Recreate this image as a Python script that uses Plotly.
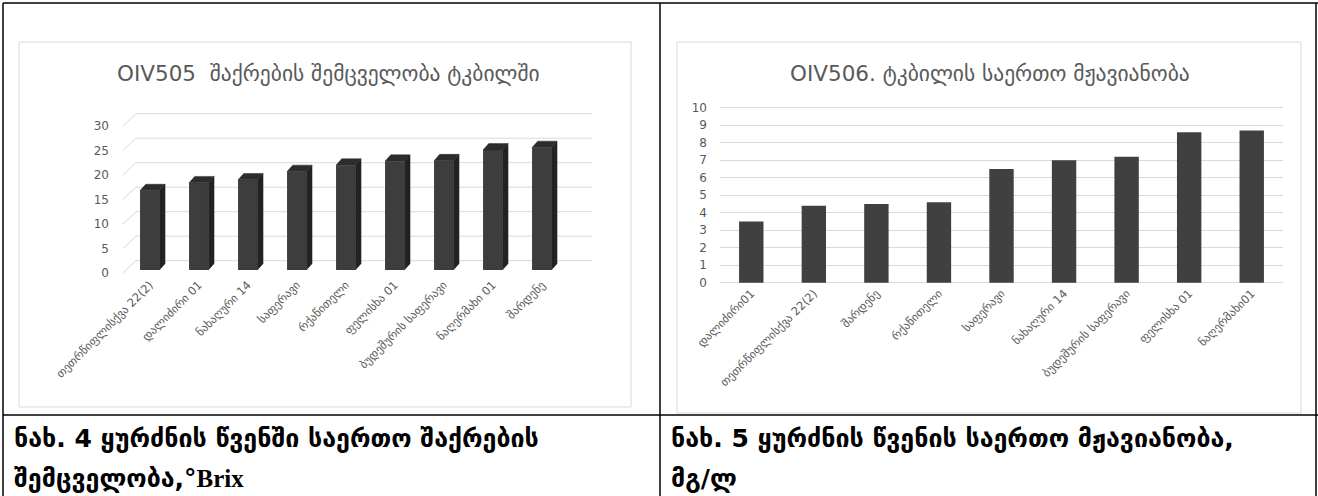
import numpy as np
import plotly.graph_objects as go

# --- data -------------------------------------------------------------
sugar_varieties = ["თეთრწიფლისქვა 22(2)", "დალიძირი 01", "ნახაღური 14", "საფერავი",
                   "რქაწითელი", "ფელისხა 01", "ბუდეშურის საფერავი", "ნაღერმახი 01", "შარდენე"]
sugar_brix = [16.2, 17.8, 18.4, 20.1, 21.4, 22.2, 22.3, 24.5, 25.0]
sugar_ticks = [0, 5, 10, 15, 20, 25, 30]

acid_varieties = ["დალიძირი01", "თეთრწიფლისქვა 22(2)", "შარდენე", "რქაწითელი", "საფერავი",
                  "ნახაღური 14", "ბუდეშურის საფერავი", "ფელისხა 01", "ნაღერმახი01"]
acid_gl = [3.5, 4.4, 4.5, 4.6, 6.5, 7.0, 7.2, 8.6, 8.7]
acid_ticks = list(range(0, 11))

title_left = "OIV505  შაქრების შემცველობა ტკბილში"
title_right = "OIV506. ტკბილის საერთო მჟავიანობა"
caption_left = ["ნახ. 4 ყურძნის წვენში საერთო შაქრების",
                "შემცველობა,°<span style='font-family:Liberation Serif'>Brix</span>"]
caption_right = ["ნახ. 5 ყურძნის წვენის საერთო მჟავიანობა,", "მგ/ლ"]

# --- page geometry (pixels) -------------------------------------------
W, H = 1318, 496
fx = lambda p: p / W
fy = lambda p: 1 - p / H

GEO = "DejaVu Sans"
GREY = "#595959"
GRID = "#d9d9d9"

fig = go.Figure()

# --- left chart: 3-D style columns -------------------------------------
# pixel mapping: category 0 at 149.7 px, 49 px per category; value 0 at 270 px, 4.9 px per unit
C0, CS = 149.7, 49.0
V0, VS = 270.0, 4.9
idx = np.arange(len(sugar_varieties))
bw, ddx, ddy = 0.394, 0.116, 1.3    # front width, depth offsets
wall_dy = 1.9                       # back wall gridlines sit higher
stub_x0 = (123 - C0) / CS
wall_x0 = (136 - C0) / CS
wall_x1 = (592 - C0) / CS

fig.add_trace(go.Bar(x=idx, y=sugar_brix, width=bw, marker=dict(color="#3d3d3d", line=dict(width=0)),
                     showlegend=False, xaxis="x", yaxis="y"))

sx, sy, tx, ty = [], [], [], []
for i, v in zip(idx, sugar_brix):
    x0, x1 = i - bw / 2, i + bw / 2
    sx += [x1, x1 + ddx, x1 + ddx, x1, x1, None]
    sy += [0, ddy, v + ddy, v, 0, None]
    tx += [x0, x0 + ddx, x1 + ddx, x1, x0, None]
    ty += [v, v + ddy, v + ddy, v, v, None]
fig.add_trace(go.Scatter(x=sx, y=sy, mode="lines", fill="toself", fillcolor="#222222",
                         line=dict(width=0.5, color="#222222"), hoverinfo="skip",
                         showlegend=False, xaxis="x", yaxis="y"))
fig.add_trace(go.Scatter(x=tx, y=ty, mode="lines", fill="toself", fillcolor="#2c2c2c",
                         line=dict(width=0.5, color="#2c2c2c"), hoverinfo="skip",
                         showlegend=False, xaxis="x", yaxis="y"))

# --- right chart: flat columns -----------------------------------------
fig.add_trace(go.Bar(x=acid_varieties, y=acid_gl, width=0.39,
                     marker=dict(color="#404040", line=dict(width=0)),
                     showlegend=False, xaxis="x2", yaxis="y2"))

lx0, lx1 = 112, 600
ly0, ly1 = 100, 275
rx0, rx1 = 720, 1283
ry0, ry1 = 100, 283.5

fig.update_layout(
    width=W, height=H, margin=dict(l=0, r=0, t=0, b=0, autoexpand=False),
    paper_bgcolor="white", plot_bgcolor="rgba(0,0,0,0)",
    xaxis=dict(domain=[fx(lx0), fx(lx1)], automargin=False,
               range=[(lx0 - C0) / CS, (lx1 - C0) / CS],
               tickmode="array", tickvals=idx, ticktext=sugar_varieties,
               tickangle=-45, tickfont=dict(family=GEO, size=11.5, color=GREY),
               showgrid=False, zeroline=False, showline=False, ticks=""),
    yaxis=dict(domain=[fy(ly1), fy(ly0)], automargin=False,
               range=[(V0 - ly1) / VS, (V0 - ly0) / VS],
               tickmode="array", tickvals=sugar_ticks,
               tickfont=dict(family=GEO, size=12, color=GREY),
               ticklabelshift=3, ticklabelstandoff=2,
               showgrid=False, zeroline=False, showline=False, ticks=""),
    xaxis2=dict(domain=[fx(rx0), fx(rx1)], range=[-0.5, 8.5], automargin=False,
                tickangle=-45, tickfont=dict(family=GEO, size=11.5, color=GREY),
                showgrid=False, zeroline=False, showline=False, ticks="", anchor="y2"),
    yaxis2=dict(domain=[fy(ry1), fy(ry0)], automargin=False,
                range=[(282.7 - ry1) / 17.5, (282.7 - ry0) / 17.5],
                tickmode="array", tickvals=acid_ticks,
                tickfont=dict(family=GEO, size=12, color=GREY),
                ticklabelstandoff=12,
                showgrid=True, gridcolor=GRID, gridwidth=1,
                zeroline=True, zerolinecolor=GRID, zerolinewidth=1,
                showline=False, ticks="", anchor="x2"),
)

# back-wall gridlines of the 3-D chart (with the short floor diagonals), under the columns
shapes = []
for t in sugar_ticks:
    shapes.append(dict(type="path", xref="x", yref="y", layer="below",
                       path=f"M {stub_x0},{t - 0.6} L {wall_x0},{t + wall_dy} L {wall_x1},{t + wall_dy}",
                       line=dict(color=GRID, width=1)))

# chart frames and table rules
shapes += [
    dict(type="rect", xref="paper", yref="paper", x0=fx(19), x1=fx(631), y0=fy(407), y1=fy(42),
         line=dict(color=GRID, width=1), layer="below"),
    dict(type="rect", xref="paper", yref="paper", x0=fx(677), x1=fx(1301), y0=fy(413), y1=fy(42),
         line=dict(color=GRID, width=1), layer="below"),
]
for (a, b, c, d) in [(3, 3, 1318, 3), (3, 415, 1318, 415), (3, 3, 3, 496),
                     (660, 3, 660, 496), (1316, 3, 1316, 496)]:
    shapes.append(dict(type="line", xref="paper", yref="paper", x0=fx(a), y0=fy(b), x1=fx(c), y1=fy(d),
                       line=dict(color="black", width=1.5)))
fig.update_layout(shapes=shapes)

annotations = [
    dict(text=title_left, x=fx(328), y=fy(73), xref="paper", yref="paper", showarrow=False,
         xanchor="center", yanchor="middle", font=dict(family=GEO, size=21.5, color=GREY)),
    dict(text=title_right, x=fx(990), y=fy(73), xref="paper", yref="paper", showarrow=False,
         xanchor="center", yanchor="middle", font=dict(family=GEO, size=21.5, color=GREY)),
]
for cap, x0 in [(caption_left, 12), (caption_right, 669)]:
    for line, yc in zip(cap, [438, 478]):
        annotations.append(dict(text=line, x=fx(x0), y=fy(yc), xref="paper", yref="paper",
                                showarrow=False, xanchor="left", yanchor="middle", align="left",
                                font=dict(family=GEO, size=25, color="black", weight="bold")))
fig.update_layout(annotations=annotations)

fig.write_html("out.html")
